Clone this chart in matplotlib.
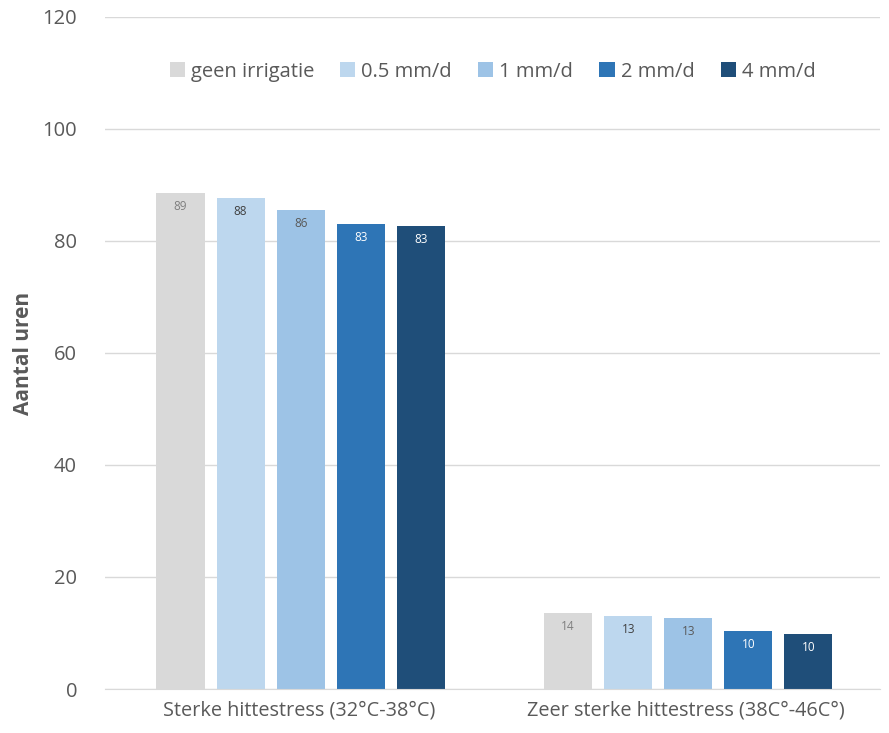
import matplotlib.pyplot as plt
import numpy as np

# Aantal uren hittestress per irrigatieniveau
categorieen = ['Sterke hittestress (32°C-38°C)', 'Zeer sterke hittestress (38C°-46C°)']
reeksen = ['geen irrigatie', '0.5 mm/d', '1 mm/d', '2 mm/d', '4 mm/d']
geen = [88.6, 13.6]
mm05 = [87.7, 13.0]
mm1 = [85.5, 12.7]
mm2 = [83.0, 10.4]
mm4 = [82.7, 9.8]
labels = [['89', '14'], ['88', '13'], ['86', '13'], ['83', '10'], ['83', '10']]

kleuren = ['#d9d9d9', '#bdd7ee', '#9dc3e6', '#2e75b6', '#1f4e79']
tekstkleur = ['#7f7f7f', '#404040', '#595959', 'white', 'white']
grijs = '#595959'

plt.rcParams['font.family'] = ['Open Sans', 'DejaVu Sans']

fig = plt.figure(figsize=(8.89, 7.33), dpi=100)
ax = fig.add_axes([0.118, 0.06, 0.872, 0.917])

x = np.arange(len(categorieen))
breedte = 0.124
stap = 0.155
data = [geen, mm05, mm1, mm2, mm4]
for i, waarden in enumerate(data):
    pos = x + 0.005 + (i - 2) * stap
    ax.bar(pos, waarden, breedte, color=kleuren[i], label=reeksen[i], zorder=2)
    for p, v, t in zip(pos, waarden, labels[i]):
        ax.text(p, v - 1.3, t, ha='center', va='top', fontsize=8.5, color=tekstkleur[i], zorder=3)

ax.set_xlim(-0.5, 1.5)
ax.set_ylim(0, 120)
ax.set_yticks(range(0, 121, 20))
ax.yaxis.grid(True, color='#d9d9d9', linewidth=1, zorder=0)
ax.set_axisbelow(True)
for s in ['top', 'right', 'left']:
    ax.spines[s].set_visible(False)
ax.spines['bottom'].set_color('#d9d9d9')
ax.tick_params(axis='y', length=0, pad=20, labelsize=14.5, labelcolor=grijs)
ax.tick_params(axis='x', length=0, pad=8, labelsize=14.3, labelcolor=grijs)
ax.set_xticks(x)
ax.set_xticklabels(categorieen)
ax.set_ylabel('Aantal uren', fontsize=15, fontweight='bold', color=grijs, labelpad=6)

ax.legend(loc='upper center', bbox_to_anchor=(0.5, 0.96), ncol=5, frameon=False,
          fontsize=14.5, labelcolor=grijs, handlelength=0.75, handleheight=0.75,
          handletextpad=0.3, columnspacing=1.3)

fig.savefig('out.png', dpi=100)
